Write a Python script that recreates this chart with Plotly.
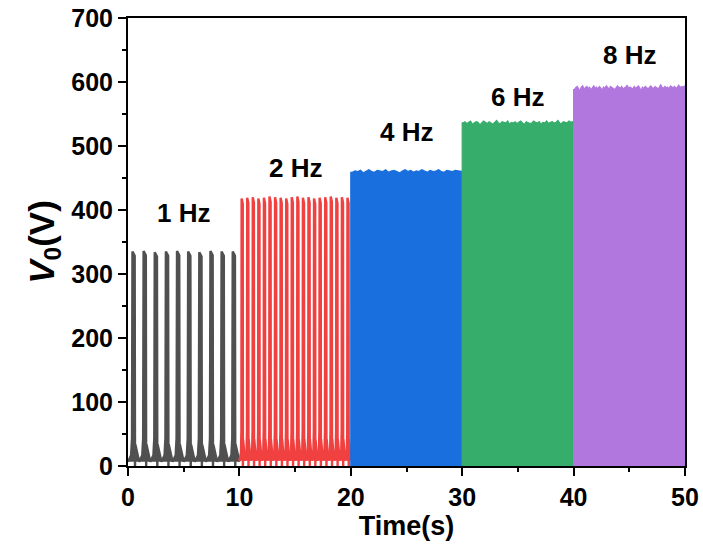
import plotly.graph_objects as go

# ---------------- data ----------------
freq_labels = ["1 Hz", "2 Hz", "4 Hz", "6 Hz", "8 Hz"]
freqs = [1, 2, 4, 6, 8]
seg_start = [0, 10, 20, 30, 40]
seg_len = 10
colors = ["#505050", "#F04040", "#1A6FDF", "#37AD6B", "#B177DE"]

# peak voltage of each cycle (V)
p1 = [335, 336, 334, 335, 336, 335, 334, 336, 335, 335]
p2 = [418, 419, 420, 418, 419, 421, 420, 419, 418, 420,
      421, 419, 420, 418, 419, 420, 421, 419, 420, 419]
p4 = [459, 461, 460, 462, 458, 461, 463, 460, 459, 462,
      461, 460, 463, 459, 461, 462, 460, 458, 461, 463,
      460, 462, 459, 461, 460, 463, 461, 459, 462, 460,
      461, 463, 460, 459, 462, 461, 460, 462, 461, 460]
p6 = [536, 538, 535, 537, 539, 534, 536, 538, 537, 533,
      536, 539, 537, 535, 538, 536, 534, 537, 540, 536,
      535, 538, 537, 536, 539, 534, 537, 536, 538, 535,
      537, 539, 536, 534, 538, 537, 535, 536, 539, 537,
      536, 538, 534, 537, 536, 539, 535, 537, 538, 536,
      537, 540, 536, 535, 538, 537, 536, 539, 537, 538]
p8 = [588, 591, 593, 590, 586, 592, 594, 589, 591, 593,
      590, 592, 588, 591, 594, 590, 592, 589, 593, 591,
      587, 592, 590, 594, 591, 589, 593, 592, 590, 588,
      591, 594, 592, 590, 593, 589, 591, 592, 595, 590,
      592, 591, 589, 593, 590, 592, 594, 591, 586, 592,
      590, 593, 591, 589, 592, 594, 591, 590, 593, 592,
      590, 591, 596, 592, 590, 593, 591, 592, 589, 594,
      592, 591, 593, 590, 592, 595, 591, 593, 592, 594]
peaks = [p1, p2, p4, p6, p8]

# shape of one output pulse (fraction of cycle, fraction of peak)
pulse_phase = [0.00, 0.28, 0.36, 0.40, 0.60, 0.63, 0.66, 1.00]
pulse_level = [0.02, 0.05, 0.13, 1.00, 0.98, 0.00, 0.10, 0.02]

label_x = [5, 15, 25, 35, 45]
label_y = [395, 465, 522, 577, 642]

x_ticks = [0, 10, 20, 30, 40, 50]
y_ticks = [0, 100, 200, 300, 400, 500, 600, 700]

# ---------------- figure ----------------
fig = go.Figure()
FONT = "Liberation Sans, Arial, sans-serif"

for i, f in enumerate(freqs):
    period = 1.0 / f
    xs, ys = [], []
    tpk = []
    for k, pk in enumerate(peaks[i]):
        t0 = seg_start[i] + k * period
        for ph, lv in zip(pulse_phase, pulse_level):
            xs.append(t0 + ph * period)
            ys.append(lv * pk)
        tpk.append(t0 + 0.5 * period)
    if f >= 4:
        ex = [seg_start[i], seg_start[i]] + tpk + [seg_start[i] + seg_len, seg_start[i] + seg_len]
        ey = [0, peaks[i][0]] + peaks[i] + [peaks[i][-1], 0]
        fig.add_trace(go.Scatter(x=ex, y=ey, mode="lines", fill="toself",
                                 fillcolor=colors[i],
                                 line=dict(color=colors[i], width=1.2),
                                 hoverinfo="skip", showlegend=False))
    else:
        fig.add_trace(go.Scatter(x=xs, y=ys, mode="lines", fill="toself",
                                 fillcolor=colors[i],
                                 line=dict(color=colors[i], width=2.4),
                                 showlegend=False))

for lx, ly, lt in zip(label_x, label_y, freq_labels):
    fig.add_annotation(x=lx, y=ly, text="<b>%s</b>" % lt, showarrow=False,
                       font=dict(family=FONT, size=26, color="black"),
                       xanchor="center", yanchor="middle")

axis_common = dict(showline=True, linewidth=2, linecolor="black", mirror=True,
                   ticks="outside", ticklen=8, tickwidth=2, tickcolor="black",
                   showgrid=False, zeroline=False, automargin=False,
                   tickfont=dict(family=FONT, size=25, color="black", weight="bold"))

fig.update_xaxes(range=[0, 50], tickvals=x_ticks,
                 minor=dict(ticks="outside", ticklen=4, tickwidth=2, tickcolor="black", dtick=5, showgrid=False),
                 title=dict(text="<b>Time(s)</b>", font=dict(family=FONT, size=27, color="black"), standoff=6),
                 **axis_common)
fig.update_yaxes(range=[0, 700], tickvals=y_ticks,
                 minor=dict(ticks="outside", ticklen=4, tickwidth=2, tickcolor="black", dtick=50, showgrid=False),
                 title=dict(text="<b><i>V</i><sub>0</sub>(V)</b>", font=dict(family=FONT, size=35, color="black"), standoff=6),
                 **axis_common)

fig.update_layout(width=703, height=556, margin=dict(l=128, r=18, t=18, b=90),
                  plot_bgcolor="white", paper_bgcolor="white")

fig.write_html("out.html")
